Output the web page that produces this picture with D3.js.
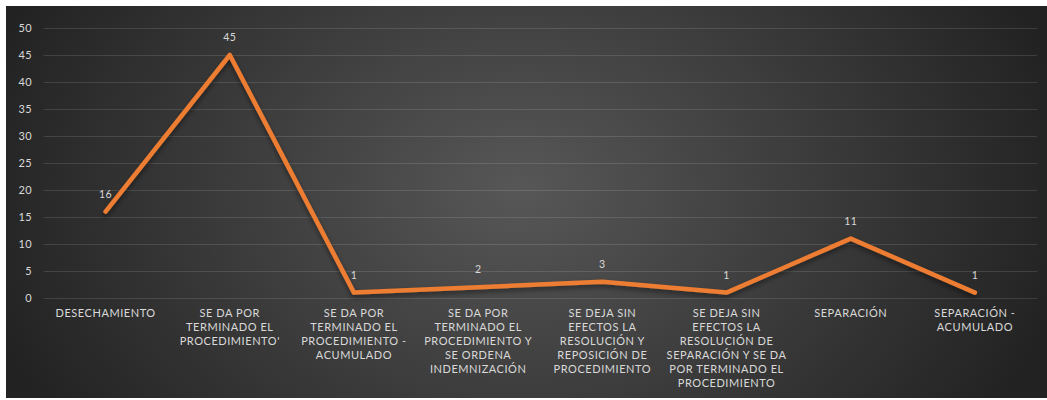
<!DOCTYPE html>
<html><head><meta charset="utf-8">
<script src="https://cdn.jsdelivr.net/npm/d3@7"></script>
<style>html,body{margin:0;padding:0;background:#fff;}svg{display:block;}</style>
</head><body>
<svg id="chart" width="1047" height="400"></svg>
<script>
const categories = [
  "DESECHAMIENTO",
  "SE DA POR\nTERMINADO EL\nPROCEDIMIENTO'",
  "SE DA POR\nTERMINADO EL\nPROCEDIMIENTO -\nACUMULADO",
  "SE DA POR\nTERMINADO EL\nPROCEDIMIENTO Y\nSE ORDENA\nINDEMNIZACIÓN",
  "SE DEJA SIN\nEFECTOS LA\nRESOLUCIÓN Y\nREPOSICIÓN DE\nPROCEDIMIENTO",
  "SE DEJA SIN\nEFECTOS LA\nRESOLUCIÓN DE\nSEPARACIÓN Y SE DA\nPOR TERMINADO EL\nPROCEDIMIENTO",
  "SEPARACIÓN",
  "SEPARACIÓN -\nACUMULADO"
];
const values = [16, 45, 1, 2, 3, 1, 11, 1];
const yTicks = [0, 5, 10, 15, 20, 25, 30, 35, 40, 45, 50];

const svg = d3.select("#chart");
const W = 1047, H = 400;
const defs = svg.append("defs");
const grad = defs.append("radialGradient").attr("id", "bg")
  .attr("gradientUnits", "userSpaceOnUse")
  .attr("cx", 520).attr("cy", 190).attr("r", 560)
  .attr("gradientTransform", "translate(520,190) scale(1,0.75) translate(-520,-190)");
grad.append("stop").attr("offset", "0%").attr("stop-color", "#575757");
grad.append("stop").attr("offset", "100%").attr("stop-color", "#222222");
const sh = defs.append("filter").attr("id", "sh").attr("x", "-10%").attr("y", "-10%").attr("width", "120%").attr("height", "140%");
sh.append("feDropShadow").attr("dx", 0).attr("dy", 3).attr("stdDeviation", 2.5)
  .attr("flood-color", "#000").attr("flood-opacity", 0.45);

svg.append("rect").attr("x", 6).attr("y", 6).attr("width", W - 6).attr("height", 392).attr("fill", "url(#bg)");

const x = d3.scaleBand().domain(categories).range([43.5, 1037]);
const y = d3.scaleLinear().domain([0, 50]).range([298, 28]);

const font = "Lato, 'Open Sans', sans-serif";
const txt = "#d9d9d9";

// gridlines
svg.append("g").selectAll("line").data(yTicks).join("line")
  .attr("x1", 43.5).attr("x2", 1037)
  .attr("y1", d => Math.round(y(d)) + 0.5).attr("y2", d => Math.round(y(d)) + 0.5)
  .attr("stroke", "#ffffff").attr("stroke-opacity", 0.12).attr("stroke-width", 1.2);

// y axis labels
const yAxis = d3.axisLeft(y).tickValues(yTicks).tickSize(0).tickPadding(0);
const ya = svg.append("g").attr("transform", "translate(32,0)").call(yAxis);
ya.select(".domain").remove();
ya.selectAll("text").attr("fill", txt).style("font-family", font).style("font-size", "11px")
  .style("letter-spacing", "0.4px");

// x axis labels
const xa = svg.append("g").attr("transform", "translate(0,298)").call(d3.axisBottom(x).tickSize(0).tickFormat(""));
xa.select(".domain").remove();
xa.selectAll(".tick").each(function(d) {
  const t = d3.select(this).append("text")
    .attr("fill", txt).attr("text-anchor", "middle")
    .style("font-family", font).style("font-size", "11px")
    .style("letter-spacing", "0.55px");
  d.split("\n").forEach((ln, i) => {
    t.append("tspan").attr("x", 0).attr("y", 19 + i * 14).text(ln);
  });
});

// line
const line = d3.line().x((d, i) => x(categories[i]) + x.bandwidth() / 2).y(d => y(d));
svg.append("path").datum(values)
  .attr("d", line).attr("fill", "none")
  .attr("stroke", "#ED7D31").attr("stroke-width", 4.5)
  .attr("stroke-linejoin", "round").attr("stroke-linecap", "round")
  .attr("filter", "url(#sh)");

// data labels
svg.append("g").selectAll("text").data(values).join("text")
  .attr("x", (d, i) => x(categories[i]) + x.bandwidth() / 2)
  .attr("y", d => y(d) - 14)
  .attr("text-anchor", "middle").attr("fill", txt)
  .style("font-family", font).style("font-size", "10.5px")
  .style("letter-spacing", "0.4px")
  .text(d => d);
</script>
</body></html>
